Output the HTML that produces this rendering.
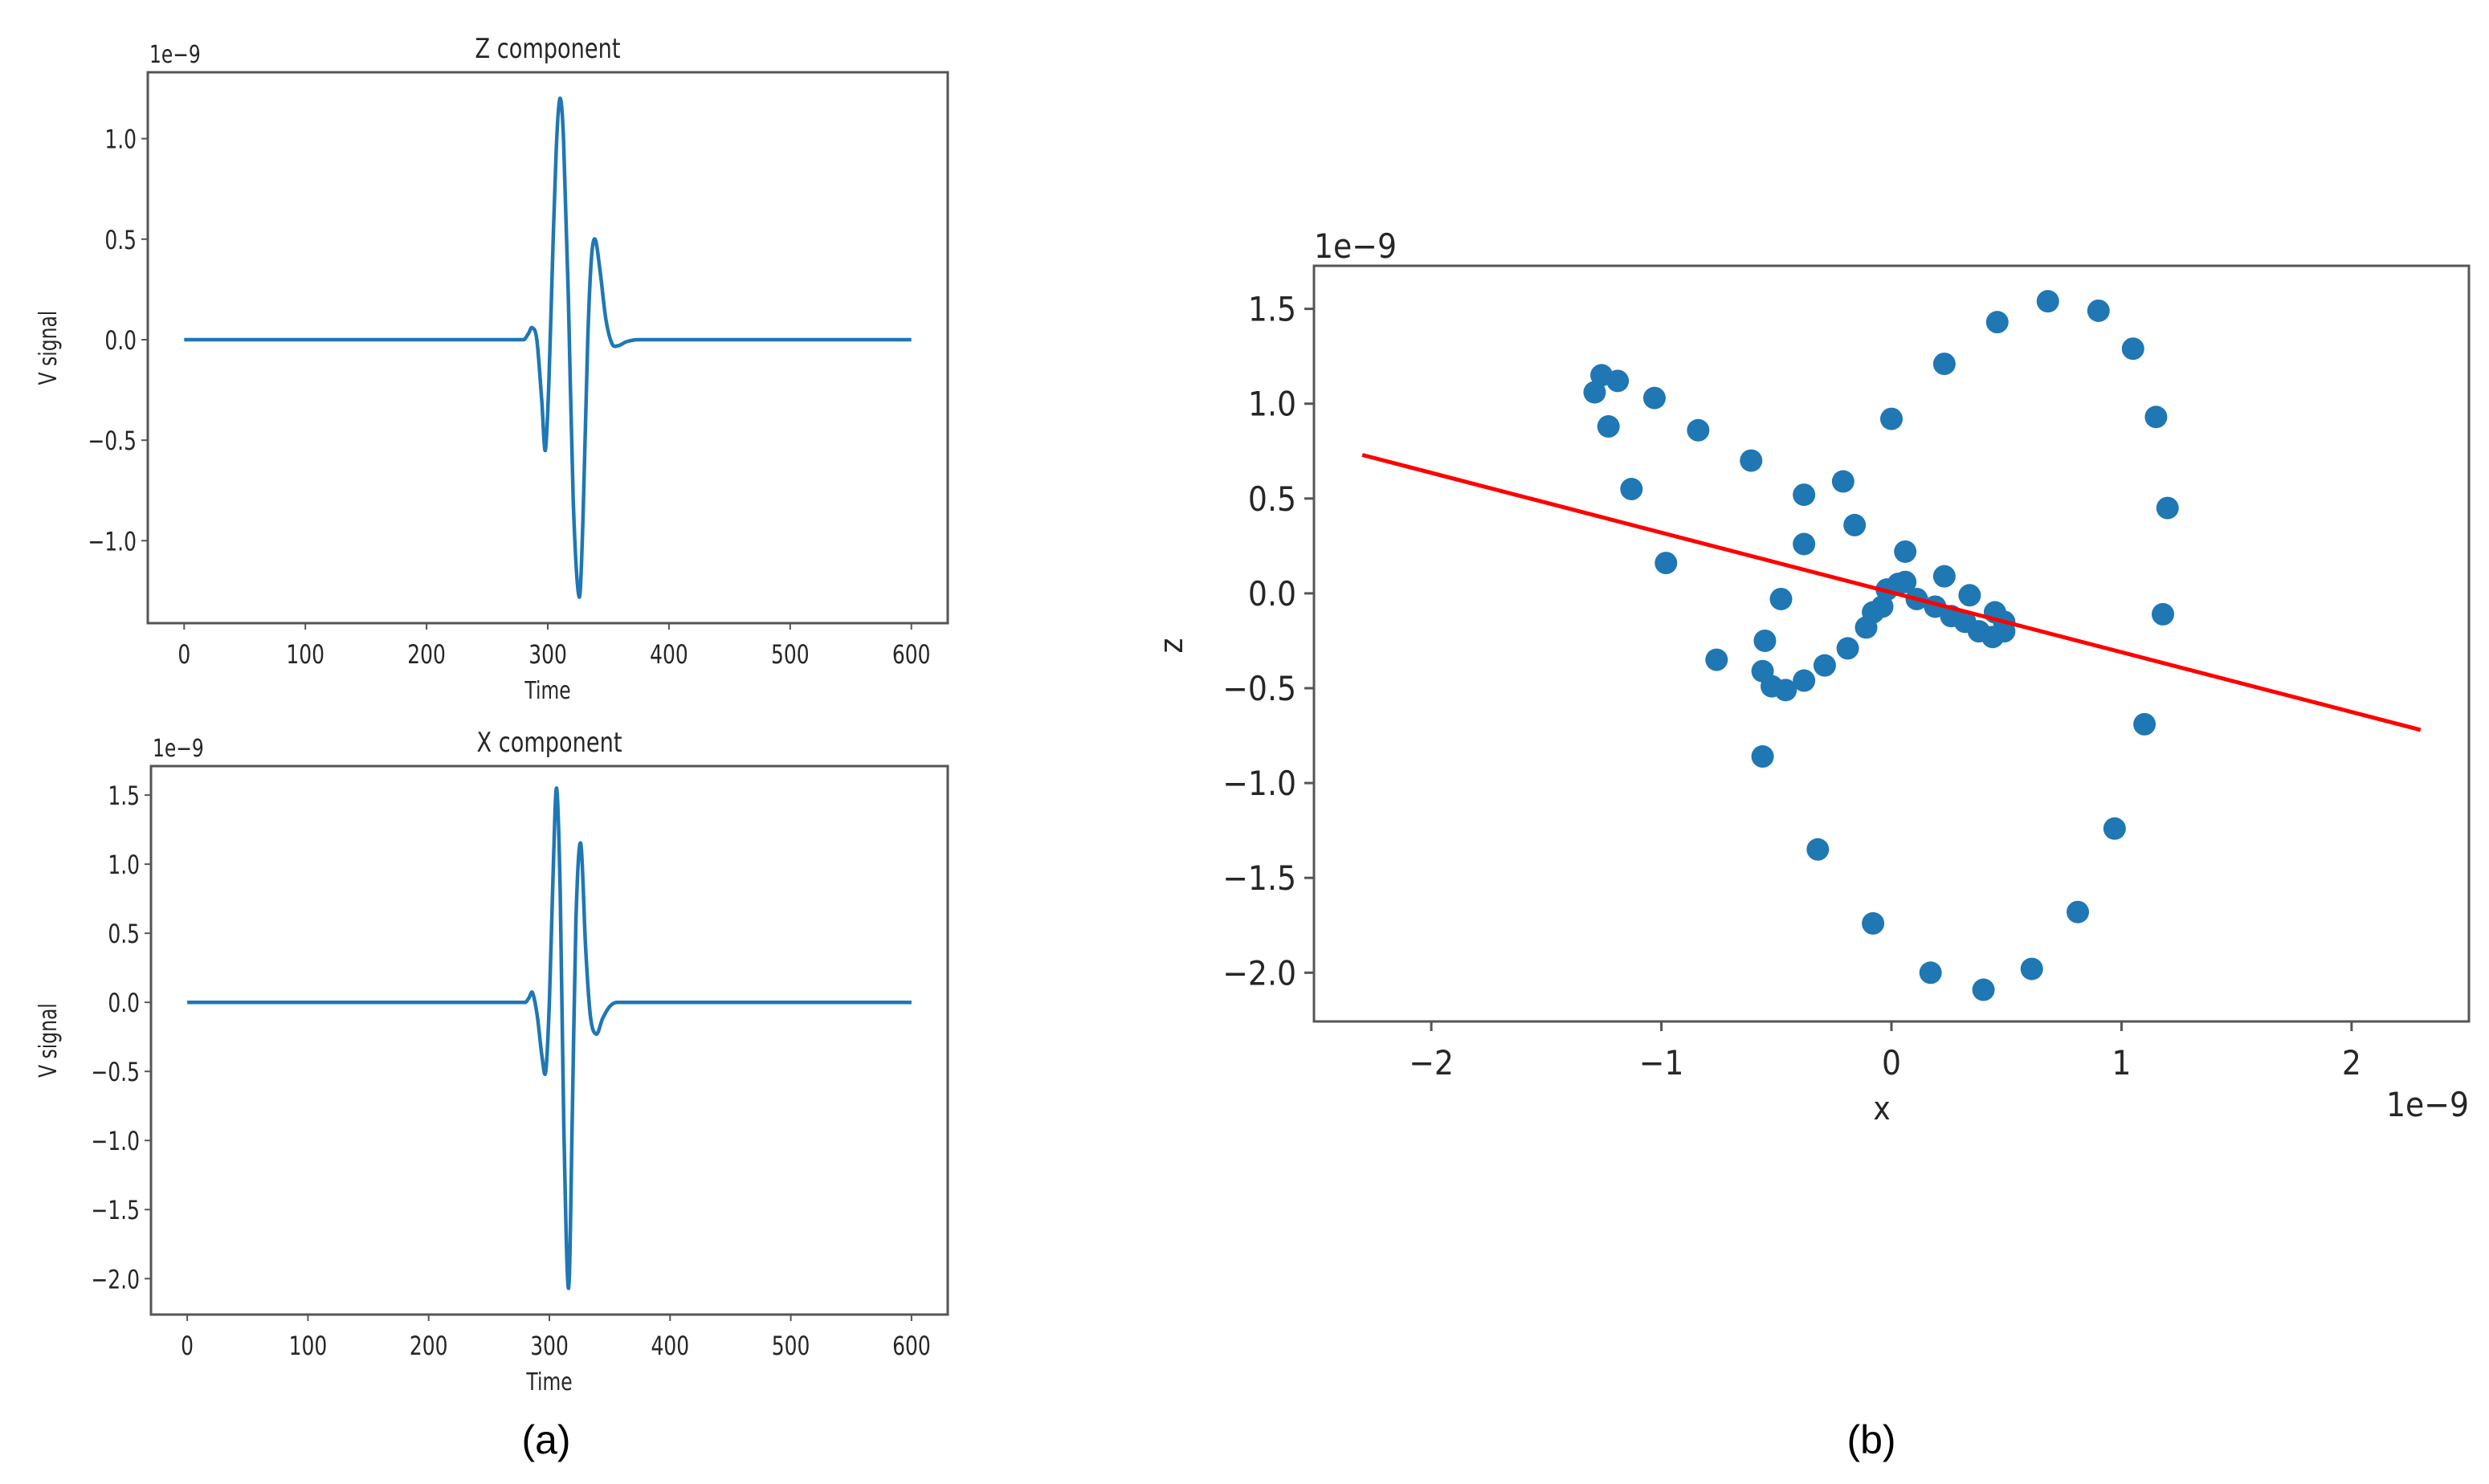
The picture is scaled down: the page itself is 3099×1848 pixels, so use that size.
<!DOCTYPE html>
<html><head><meta charset="utf-8"><style>
html,body{margin:0;padding:0;background:#fff}
svg{display:block}
text{font-family:"DejaVu Sans","Liberation Sans",sans-serif;fill:#262626}
</style></head><body>
<svg id="fig" xmlns="http://www.w3.org/2000/svg" width="3099" height="1848" viewBox="0 0 3099 1848">
<rect width="3099" height="1848" fill="#fff"/>
</svg>
<script>
// ---- data ----
const zTimes = [0,280,284,287,291,295,298,301,304,307,310,313,317,321,326,329,333,336,339,343,348,353,358,365,375,600];
const zValues = [0,0,0.03,0.06,0.0,-0.3,-0.55,-0.2,0.4,0.95,1.2,1.0,0.2,-0.8,-1.28,-0.9,0.0,0.4,0.5,0.35,0.1,-0.02,-0.03,-0.01,0,0];
const xTimes = [0,280,283,286,290,294,297,300,303,306,309,312,316,319,322,326,330,334,339,344,350,356,600];
const xValues = [0,0,0.03,0.07,-0.1,-0.4,-0.5,0.0,0.9,1.55,0.8,-0.9,-2.07,-0.8,0.6,1.15,0.4,-0.1,-0.23,-0.12,-0.03,0,0];
const timeTicks = [0,100,200,300,400,500,600];
const zTicks = [-1.0,-0.5,0.0,0.5,1.0];
const xCompTicks = [-2.0,-1.5,-1.0,-0.5,0.0,0.5,1.0,1.5];
const scatterX = [-1.29,-1.26,-1.19,-1.23,-1.03,-1.13,-0.98,-0.84,-0.61,-0.76,-0.56,-0.55,-0.48,-0.56,-0.52,-0.46,-0.38,-0.38,-0.38,-0.32,-0.29,-0.21,-0.19,-0.16,-0.11,-0.08,0.00,0.06,-0.04,-0.02,0.03,0.06,0.23,0.23,0.17,0.34,0.40,0.46,0.68,0.61,0.90,0.81,1.05,0.97,1.15,1.10,1.20,1.18,0.11,0.19,0.26,0.32,0.38,0.44,0.49,0.45,0.49,-0.08];
const scatterZ = [1.06,1.15,1.12,0.88,1.03,0.55,0.16,0.86,0.70,-0.35,-0.86,-0.25,-0.03,-0.41,-0.49,-0.51,-0.46,0.52,0.26,-1.35,-0.38,0.59,-0.29,0.36,-0.18,-1.74,0.92,0.22,-0.07,0.02,0.05,0.06,1.21,0.09,-2.00,-0.01,-2.09,1.43,1.54,-1.98,1.49,-1.68,1.29,-1.24,0.93,-0.69,0.45,-0.11,-0.03,-0.07,-0.12,-0.15,-0.20,-0.23,-0.20,-0.10,-0.15,-0.10];
const fitX = [-2.3, 2.3];
const fitZ = [0.73, -0.72];
const scatXTicks = [-2,-1,0,1,2];
const scatZTicks = [-2.0,-1.5,-1.0,-0.5,0.0,0.5,1.0,1.5];

const NS='http://www.w3.org/2000/svg';
const svg=document.getElementById('fig');
function el(tag,attrs,parent){const e=document.createElementNS(NS,tag);for(const k in attrs)e.setAttribute(k,attrs[k]);(parent||svg).appendChild(e);return e;}
function txt(s,x,y,size,anchor,sx,rot){
  const t=el('text',{x:0,y:0,'font-size':size,'text-anchor':anchor||'middle',transform:`translate(${x},${y}) rotate(${rot||0}) scale(${sx||1},1)`});
  t.textContent=s;return t;
}
function lin(d0,d1,p0,p1){return v=>p0+(v-d0)/(d1-d0)*(p1-p0);}
// Hermite spline parametrised by x (no loops)
function smoothPath(P){
  const n=P.length, m=[];
  for(let i=0;i<n;i++){
    if(i===0||i===n-1){m.push(0);continue;}
    const dl=P[i][0]-P[i-1][0], dr=P[i+1][0]-P[i][0];
    if(dl>30||dr>30){m.push(0);continue;}
    m.push((P[i+1][1]-P[i-1][1])/(P[i+1][0]-P[i-1][0]));
  }
  let d='M'+P[0][0].toFixed(1)+','+P[0][1].toFixed(1);
  for(let i=0;i<n-1;i++){
    const h=(P[i+1][0]-P[i][0])/3;
    d+=' C'+(P[i][0]+h).toFixed(1)+','+(P[i][1]+m[i]*h).toFixed(1)+' '+(P[i+1][0]-h).toFixed(1)+','+(P[i+1][1]-m[i+1]*h).toFixed(1)+' '+P[i+1][0].toFixed(1)+','+P[i+1][1].toFixed(1);
  }
  return d;
}

function linePanel(name,box,xlim,ylim,times,vals,yticks,title){
  const g=el('g',{});
  
  
  const X=lin(xlim[0],xlim[1],box.l,box.r), Y=lin(ylim[0],ylim[1],box.b,box.t);
  const P=times.map((t,i)=>[X(t),Y(vals[i])]);
  const pl=el('path',{d:smoothPath(P),fill:'none',stroke:'#1f77b4','stroke-width':4.5,'stroke-linejoin':'round'},g);
  
  
  const fr=el('rect',{x:box.l,y:box.t,width:box.r-box.l,height:box.b-box.t,fill:'none',stroke:'#555','stroke-width':3},g);
  
  
  timeTicks.forEach(t=>{const x=X(t);el('line',{x1:x,y1:box.b,x2:x,y2:box.b+8,stroke:'#555','stroke-width':2},g);
    const l=txt(String(t),x,box.b+50,32,'middle',0.78);g.appendChild(l);
    
    });
  yticks.forEach(v=>{const y=Y(v);el('line',{x1:box.l-8,y1:y,x2:box.l,y2:y,stroke:'#555','stroke-width':2},g);
    const l=txt(v.toFixed(1).replace('-','\u2212'),box.l-14,y+12,32,'end',0.78);g.appendChild(l);
    
    });
  const tt=txt(title,(box.l+box.r)/2,box.t-18,34,'middle',0.8);g.appendChild(tt);
  
  
  const ex=txt('1e\u22129',box.l+2,box.t-12,30,'start',0.78);g.appendChild(ex);
  
  
  const xl=txt('Time',(box.l+box.r)/2,box.b+94,30,'middle',0.78);g.appendChild(xl);
  
  
  const yl=txt('V signal',70,(box.t+box.b)/2,30,'middle',0.78,-90);g.appendChild(yl);
  
  
}
linePanel('z-component-panel',{l:184,r:1180,t:90,b:776},[-30,630],[-1.41,1.33],zTimes,zValues,zTicks,'Z component');
linePanel('x-component-panel',{l:188,r:1180,t:954,b:1637},[-30,630],[-2.26,1.71],xTimes,xValues,xCompTicks,'X component');

// scatter panel
(function(){
  const box={l:1636,r:3074,t:331,b:1272};
  const g=el('g',{});
  
  
  const X=lin(-2.51,2.51,box.l,box.r), Y=lin(-2.257,1.727,box.b,box.t);
  scatterX.forEach((x,i)=>{const c=el('circle',{cx:X(x),cy:Y(scatterZ[i]),r:14,fill:'#1f77b4'},g);
    
    });
  const ln=el('line',{x1:X(fitX[0]),y1:Y(fitZ[0]),x2:X(fitX[1]),y2:Y(fitZ[1]),stroke:'#ff0000','stroke-width':5},g);
  
  
  const fr=el('rect',{x:box.l,y:box.t,width:box.r-box.l,height:box.b-box.t,fill:'none',stroke:'#555','stroke-width':3},g);
  
  
  scatXTicks.forEach(v=>{const x=X(v);el('line',{x1:x,y1:box.b,x2:x,y2:box.b+12,stroke:'#555','stroke-width':3},g);
    const l=txt(String(v).replace('-','\u2212'),x,box.b+66,42,'middle',0.9);g.appendChild(l);
    
    });
  scatZTicks.forEach(v=>{const y=Y(v);el('line',{x1:box.l-12,y1:y,x2:box.l,y2:y,stroke:'#555','stroke-width':3},g);
    const l=txt(v.toFixed(1).replace('-','\u2212'),box.l-22,y+15,42,'end',0.9);g.appendChild(l);
    
    });
  const e1=txt('1e\u22129',box.l,box.t-10,42,'start',0.9);g.appendChild(e1);
  
  
  const e2=txt('1e\u22129',box.r,box.b+118,42,'end',0.9);g.appendChild(e2);
  
  
  const xl=txt('x',2343,box.b+122,40,'middle',0.9);g.appendChild(xl);
  
  
  const zl=txt('z',1472,804,40,'middle',0.9,-90);g.appendChild(zl);
  
  
})();

const a=txt('(a)',680,1810,50,'middle',1);


a.setAttribute('style','font-family:"Liberation Sans",sans-serif;fill:#000');
const b=txt('(b)',2330,1810,50,'middle',1);


b.setAttribute('style','font-family:"Liberation Sans",sans-serif;fill:#000');
</script>
</body></html>
